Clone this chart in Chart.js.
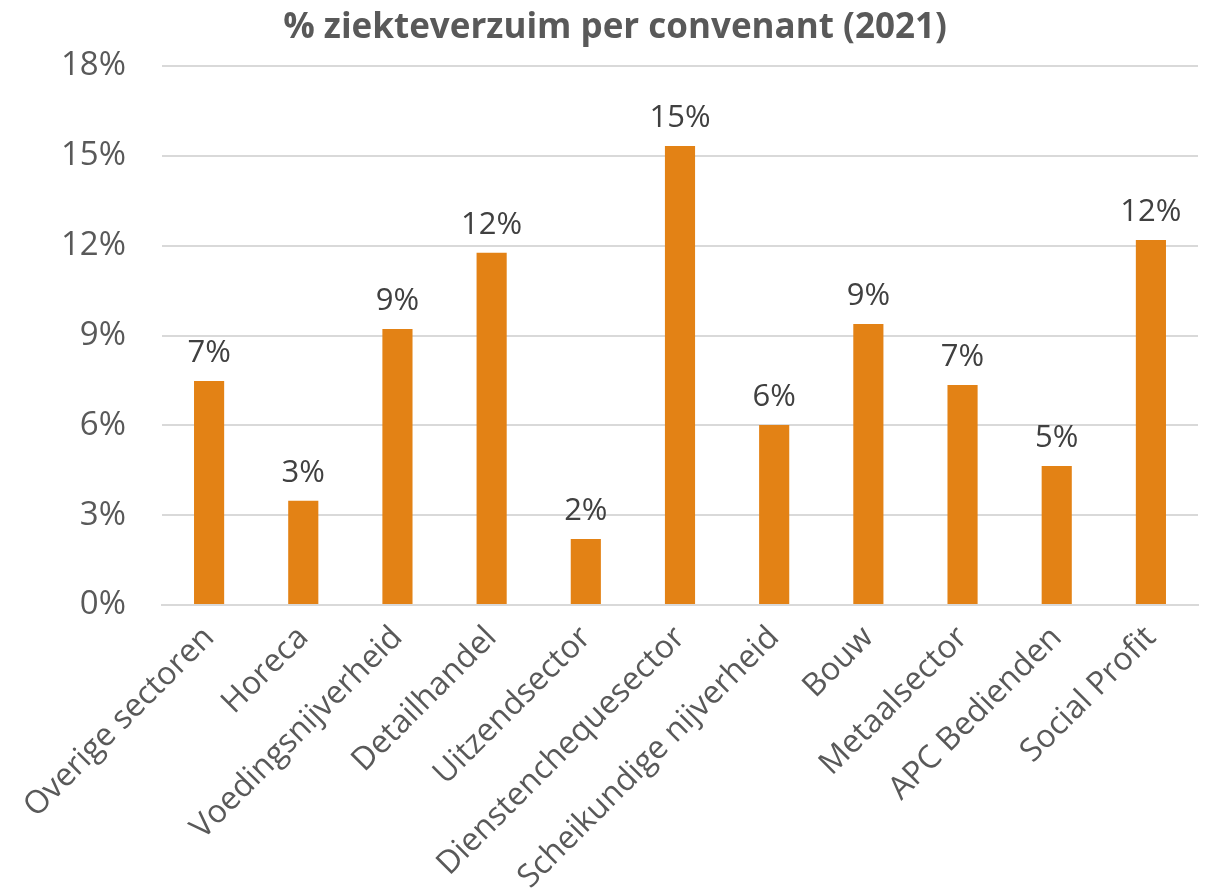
<!DOCTYPE html>
<html>
<head>
<meta charset="utf-8">
<script src="https://cdn.jsdelivr.net/npm/chart.js@4/dist/chart.umd.min.js"></script>
<style>
html,body{margin:0;padding:0;background:#fff;}
#wrap{width:1205px;height:894px;position:relative;}
</style>
</head>
<body>
<div id="wrap"><canvas id="c" width="1205" height="894"></canvas></div>
<script>
const categories = ["Overige sectoren","Horeca","Voedingsnijverheid","Detailhandel","Uitzendsector","Dienstenchequesector","Scheikundige nijverheid","Bouw","Metaalsector","APC Bedienden","Social Profit"];
const values = [7.48, 3.48, 9.22, 11.76, 2.20, 15.33, 6.01, 9.38, 7.35, 4.64, 12.19];
const yTicks = [0, 3, 6, 9, 12, 15, 18];
const titleText = "% ziekteverzuim per convenant (2021)";

const FONT = "'Open Sans', 'Liberation Sans', sans-serif";

const barLabels = {
  id: 'barLabels',
  afterDatasetsDraw(chart) {
    const ctx = chart.ctx;
    const meta = chart.getDatasetMeta(0);
    ctx.save();
    ctx.font = "31px " + FONT;
    ctx.fillStyle = "#404040";
    ctx.textAlign = "center";
    ctx.textBaseline = "alphabetic";
    meta.data.forEach((bar, i) => {
      ctx.fillText(Math.round(values[i]) + "%", bar.x, bar.y - 19);
    });
    ctx.restore();
  }
};

new Chart(document.getElementById('c'), {
  type: 'bar',
  data: {
    labels: categories,
    datasets: [{
      data: values,
      backgroundColor: '#E38215',
      borderWidth: 0,
      barPercentage: 0.64,
      categoryPercentage: 0.5
    }]
  },
  options: {
    responsive: false,
    animation: false,
    layout: { padding: { left: 32, right: 7, top: 0, bottom: 0 } },
    plugins: {
      legend: { display: false },
      tooltip: { enabled: false },
      title: {
        display: true,
        text: titleText,
        color: '#595959',
        font: { family: FONT, size: 35, weight: 'bold' },
        padding: { top: 7, bottom: 17 }
      }
    },
    scales: {
      y: {
        min: 0, max: 18,
        afterBuildTicks(scale) { scale.ticks = yTicks.map(v => ({ value: v })); },
        afterFit(scale) { scale.width = 130; },
        ticks: {
          callback: v => v + '%',
          color: '#595959',
          font: { family: FONT, size: 33 },
          padding: 36
        },
        grid: { color: '#d9d9d9', lineWidth: 2, drawTicks: false },
        border: { display: false }
      },
      x: {
        afterFit(scale) { scale.height = 289; },
        ticks: {
          color: '#595959',
          font: { family: FONT, size: 32 },
          maxRotation: 45, minRotation: 45,
          autoSkip: false,
          padding: 14
        },
        grid: { display: false, drawTicks: false },
        border: { display: true, color: '#d9d9d9', width: 2 }
      }
    }
  },
  plugins: [barLabels]
});
</script>
</body>
</html>
